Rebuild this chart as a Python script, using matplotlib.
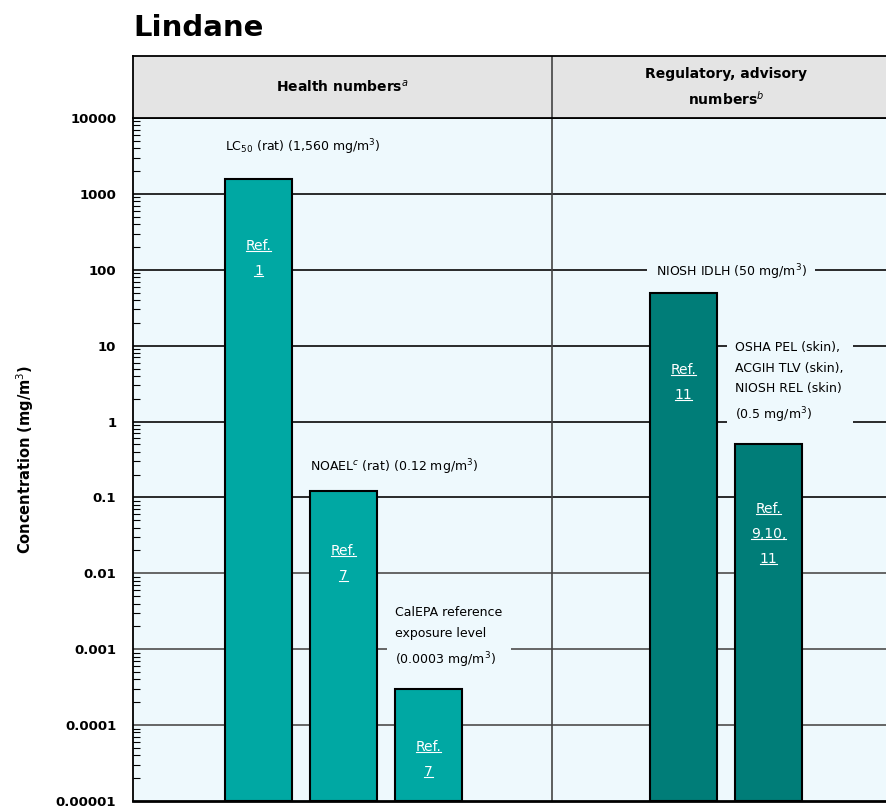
import numpy as np
import matplotlib
matplotlib.use('Agg')
import matplotlib.pyplot as plt
from matplotlib.ticker import FixedLocator, FixedFormatter, LogLocator, NullFormatter
from matplotlib.lines import Line2D

# data
bar_pos = [0, 1, 2, 5, 6]
bar_values = [1560, 0.12, 0.0003, 50, 0.5]
bar_groups = ['health', 'health', 'health', 'reg', 'reg']
ref_labels = [['Ref.', '1'], ['Ref.', '7'], ['Ref.', '7'], ['Ref.', '11'], ['Ref.', '9,10,', '11']]
ref_label_y = [140, 0.0134, 0.000035, 3.3, 0.033]

y_ticks = [1e4, 1e3, 1e2, 1e1, 1, 0.1, 0.01, 0.001, 0.0001, 0.00001]
y_tick_labels = ['10000', '1000', '100', '10', '1', '0.1', '0.01', '0.001', '0.0001', '0.00001']

notes = [
    'LC$_{50}$ (rat) (1,560 mg/m$^3$)',
    'NOAEL$^c$ (rat) (0.12 mg/m$^3$)',
    'CalEPA reference\nexposure level\n(0.0003 mg/m$^3$)',
    'NIOSH IDLH (50 mg/m$^3$)',
    'OSHA PEL (skin),\nACGIH TLV (skin),\nNIOSH REL (skin)\n(0.5 mg/m$^3$)',
]
note_x = [-0.39, 0.61, 1.61, 5.56, 5.61]
note_y = [4100, 0.25, 0.0014, 92, 3.2]
note_ha = ['left', 'left', 'left', 'center', 'left']

header_left = 'Health numbers$^a$'
header_right = 'Regulatory, advisory\nnumbers$^b$'

colors = {'health': '#00A8A3', 'reg': '#007D78'}
bg = '#EEF9FD'
xlim = (-1.476, 7.547)
divider = 3.453

fig = plt.figure(figsize=(8.86, 8.09), dpi=100)
ax = fig.add_axes([133 / 886, 8 / 809, 767 / 886, (801 - 118) / 809])
hdr = fig.add_axes([133 / 886, 1 - 118 / 809, 767 / 886, 62 / 809])

# main plot
ax.set_facecolor(bg)
ax.set_yscale('log')
ax.set_ylim(1e-5, 1e4)
ax.set_xlim(*xlim)

for lv in y_ticks[1:-1]:
    c = '#1a1a1a' if lv >= 0.1 else '#5a5a5a'
    ax.axhline(lv, color=c, lw=1.3, zorder=1)
ax.axvline(divider, color='#444444', lw=1.2, zorder=1)

for p, v, g in zip(bar_pos, bar_values, bar_groups):
    ax.bar(p, v - 1e-5, bottom=1e-5, width=0.78, color=colors[g],
           edgecolor='black', linewidth=1.5, zorder=4)

for txt, x, y, ha in zip(notes, note_x, note_y, note_ha):
    ax.text(x, y, txt, ha=ha, va='center', fontsize=9, family='DejaVu Sans',
            linespacing=1.75, zorder=3,
            bbox=dict(boxstyle='square,pad=0.7', facecolor=bg, edgecolor='none'))

ref_texts = []
for p, lines, y in zip(bar_pos, ref_labels, ref_label_y):
    n = len(lines)
    for i, line in enumerate(lines):
        off = ((n - 1) / 2 - i) * 18
        t = ax.annotate(line, (p, y), xytext=(0, off), textcoords='offset points',
                        ha='center', va='center', color='white', fontsize=10, zorder=5)
        ref_texts.append(t)

ax.yaxis.set_major_locator(FixedLocator(y_ticks))
ax.yaxis.set_major_formatter(FixedFormatter(y_tick_labels))
ax.yaxis.set_minor_locator(LogLocator(base=10, subs=np.arange(2, 10), numticks=20))
ax.yaxis.set_minor_formatter(NullFormatter())
ax.tick_params(axis='y', which='major', length=0, pad=12, labelsize=9.5)
ax.tick_params(axis='y', which='minor', direction='in', length=5, width=0.8)
for lab in ax.get_yticklabels():
    lab.set_fontweight('bold')
ax.set_xticks([])
ax.spines['left'].set_linewidth(1.3)
ax.spines['bottom'].set_linewidth(2)
ax.spines['top'].set_linewidth(1.3)
ax.set_ylabel('Concentration (mg/m$^3$)', fontsize=10.5, fontweight='bold', labelpad=14)

# header band
hdr.set_facecolor('#E4E4E4')
hdr.set_xlim(*xlim)
hdr.set_ylim(0, 1)
hdr.set_xticks([])
hdr.set_yticks([])
for s in hdr.spines.values():
    s.set_linewidth(1.3)
hdr.axvline(divider, color='#444444', lw=1.2)
hdr.text((xlim[0] + divider) / 2, 0.5, header_left, ha='center', va='center',
         fontsize=10, fontweight='bold')
hdr.text((divider + xlim[1]) / 2, 0.5, header_right, ha='center', va='center',
         fontsize=10, fontweight='bold', linespacing=1.6)

fig.text(133 / 886, 1 - 28 / 809, 'Lindane', ha='left', va='center',
         fontsize=21, fontweight='bold')

# underline the reference labels
fig.canvas.draw()
renderer = fig.canvas.get_renderer()
W, H = fig.bbox.width, fig.bbox.height
for t in ref_texts:
    bb = t.get_window_extent(renderer)
    yy = (bb.y0 + 2) / H
    fig.add_artist(Line2D([bb.x0 / W, bb.x1 / W], [yy, yy], color='white', lw=0.8, zorder=6))

fig.savefig('out.png', dpi=100)
